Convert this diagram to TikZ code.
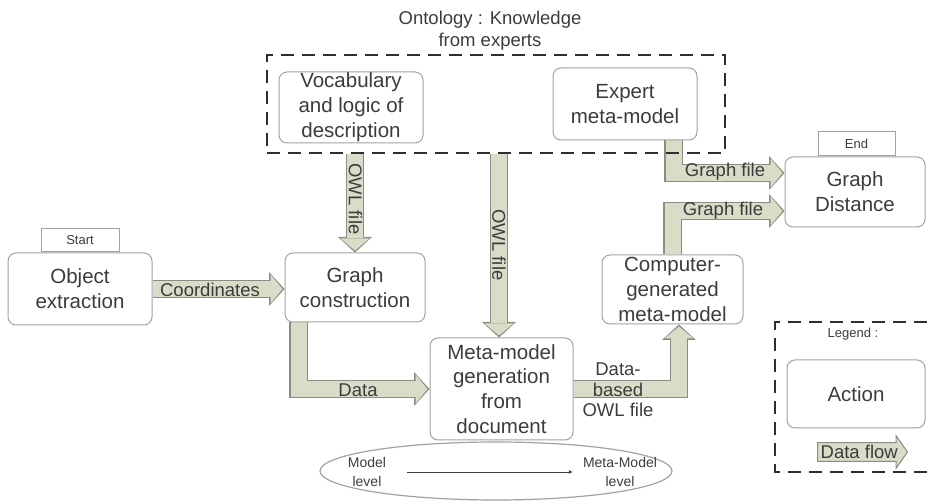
\documentclass[tikz,border=0pt]{standalone}
\usepackage{fontspec}
\setmainfont{Liberation Sans}
\usetikzlibrary{arrows.meta,shapes.arrows,shapes.geometric,backgrounds}
\definecolor{afill}{HTML}{D9DCC7}
\definecolor{aline}{HTML}{8C8C82}
\definecolor{bline}{HTML}{A2A2A2}
\definecolor{txt}{HTML}{3C3C3C}
\definecolor{dashc}{HTML}{2E2E2E}
\begin{document}
\begin{tikzpicture}[x=1pt,y=-1pt,
 box/.style={draw=bline,line width=1pt,rounded corners=8pt,fill=white,text=txt,align=center,inner sep=0pt,font=\fontsize{20.5}{24.8}\selectfont},
 tab/.style={draw=bline,line width=1pt,fill=white,text=txt,inner sep=0pt,font=\fontsize{13}{15}\selectfont},
 grp/.style={draw=dashc,line width=2.6pt,dash pattern=on 13pt off 8pt},
 fat/.style={draw=afill,line width=16pt,line join=miter,-{Triangle[length=12pt,width=29pt,line width=0pt]},shorten >=2pt,
   preaction={draw=aline,line width=18.5pt,-{Triangle[length=15.5pt,width=34pt,line width=0pt]},shorten >=0pt}},
 lab/.style={text=txt,font=\fontsize{18.5}{20.5}\selectfont,inner sep=0pt,align=center},
 small/.style={text=txt,font=\fontsize{14}{19}\selectfont,align=center,inner sep=0pt}]
\useasboundingbox (0,0) rectangle (927,502);

% title
\node[lab,font=\fontsize{18.5}{22}\selectfont] (ontot) at (490,31) {Ontology : Knowledge\\from experts};

% level ellipse
\node[ellipse,draw=bline,line width=1.2pt,minimum width=352pt,minimum height=58pt] (lev) at (496,471) {};
\node[small] (ml) at (367,472) {Model\\level};
\node[small] (mml) at (620,472) {Meta-Model\\level};
\draw[draw=txt,line width=0.8pt,-{Latex[length=4pt,width=4pt]}] ([xshift=21pt]ml.east) -- ([xshift=-10pt]mml.west);

% boxes
\node[box,minimum width=144pt,minimum height=72pt] (obj) at (80,289) {Object\\extraction};
\node[tab,minimum width=78pt,minimum height=23pt,anchor=south] (start) at (obj.north) {Start};
\node[box,minimum width=140pt,minimum height=69pt] (graphc) at (355,287.5) {Graph\\construction};
\node[box,minimum width=144pt,minimum height=71pt] (vocab) at (351,107.5) {Vocabulary\\and logic of\\description};
\node[box,minimum width=144pt,minimum height=72pt] (expert) at (625,104) {Expert\\meta-model};
\node[box,minimum width=143pt,minimum height=102pt] (meta) at (501.5,389) {Meta-model\\generation\\from\\document};
\node[box,minimum width=141pt,minimum height=69pt] (comp) at (672.5,289.5) {Computer-\\generated\\meta-model};
\node[box,minimum width=140pt,minimum height=70pt] (gd) at (855,192) {Graph\\Distance};
\node[tab,minimum width=77pt,minimum height=24pt,anchor=south] (endt) at ([xshift=1.5pt]gd.north) {End};

% ontology group
\node[grp,minimum width=458pt,minimum height=98pt] (onto) at (496,104) {};

% connectors
\begin{scope}[on background layer]
\draw[fat] (obj.east) -- (obj.east -| graphc.west);
\draw[fat] (graphc.north |- onto.south) -- (graphc.north);
\draw[fat] ([xshift=-2.5pt]meta.north |- onto.south) -- ([xshift=-2.5pt]meta.north);
\draw[fat] ([xshift=14pt]graphc.south west) |- (meta.west);
\draw[fat] (meta.east) -| ([xshift=6.5pt]comp.south);
\draw[fat] ([xshift=-24pt]expert.south east) |- ([yshift=19pt]gd.west);
\draw[fat] (comp.north) |- ([yshift=-19pt]gd.west);
\node[lab] (lc) at (210,290) {Coordinates};
\node[lab,rotate=-90] (lo1) at (355.5,199) {OWL file};
\node[lab,rotate=-90] (lo2) at (499,245) {OWL file};
\node[lab] (ld) at (358,390) {Data};
\node[lab] (lg1) at (725,172) {Graph file};
\node[lab] (lg2) at (723,211) {Graph file};
\node[lab] (ldb) at (618,390) {Data-\\based\\OWL file};
\end{scope}

% legend
\draw[grp] (927,322) -- (775,322) -- (775,472) -- (927,472);
\node[tab,draw=none] (legt) at (853,334) {Legend :};
\node[box,minimum width=138pt,minimum height=68pt] (action) at (856,394) {Action};
\node[single arrow,draw=aline,fill=afill,line width=1pt,text=txt,font=\fontsize{18.5}{20}\selectfont,
  inner xsep=1pt,inner ysep=2pt,single arrow head extend=7pt,single arrow tip angle=110,
  minimum height=90pt,anchor=west] (df) at (817,452) {Data flow};
\end{tikzpicture}
\end{document}
